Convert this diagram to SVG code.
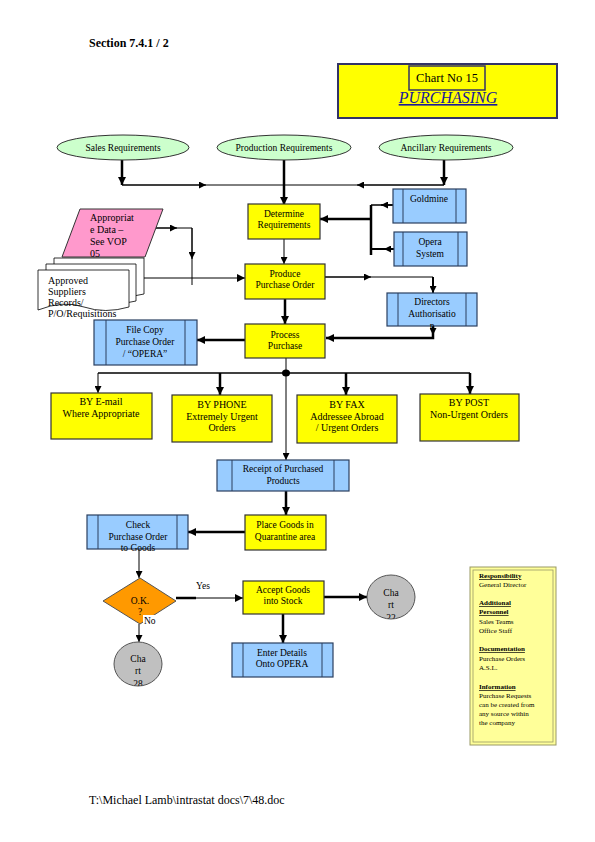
<svg xmlns="http://www.w3.org/2000/svg" width="595" height="842" viewBox="0 0 595 842">
<style>
text{font-family:"Liberation Serif","Times New Roman",serif;font-size:9.5px;fill:#000}
.c{text-anchor:middle}
.b10{font-size:10px}
.y{fill:#FFFF00;stroke:#333;stroke-width:1.2}
.bl{fill:#99CCFF;stroke:#2a3f5f;stroke-width:1.2}
.bar{stroke:#2a3f5f;stroke-width:1;fill:none}
.g{fill:#CCFFCC;stroke:#333;stroke-width:1}
.gr{fill:#C0C0C0;stroke:#555;stroke-width:1}
.t{stroke:#000;stroke-width:1;fill:none}
.k{stroke:#000;stroke-width:2.5;fill:none}
.info{font-size:7px}
.h{font-weight:bold;text-decoration:underline}
</style>
<defs>
<marker id="a" viewBox="0 0 10 10" refX="10" refY="5" markerWidth="7" markerHeight="7" markerUnits="userSpaceOnUse" orient="auto"><path d="M0,0 L10,5 L0,10 z" fill="#000"/></marker>
<marker id="A" viewBox="0 0 10 10" refX="10" refY="5" markerWidth="8" markerHeight="8" markerUnits="userSpaceOnUse" orient="auto"><path d="M0,0 L10,5 L0,10 z" fill="#000"/></marker>
<clipPath id="c22"><ellipse cx="391" cy="597" rx="24" ry="22"/></clipPath>
<clipPath id="c28"><ellipse cx="138" cy="664" rx="24" ry="22"/></clipPath>
</defs>
<rect width="595" height="842" fill="#fff"/>

<text x="89" y="47" style="font-size:12px;font-weight:bold">Section 7.4.1 / 2</text>

<g id="title">
<rect x="338" y="64" width="219" height="54" fill="#FFFF00" stroke="#333366" stroke-width="2"/>
<rect x="409" y="66" width="76" height="24" fill="#FFFF00" stroke="#333366" stroke-width="1.5"/>
<text x="447" y="82" class="c" style="font-size:12.5px">Chart No 15</text>
<text x="448" y="103" class="c" style="font-size:16px;font-style:italic;fill:#1a1a99;text-decoration:underline">PURCHASING</text>
</g>

<g id="connectors">
<path class="k" d="M122,160 V185" marker-end="url(#A)"/>
<path class="k" d="M284,160 V205" marker-end="url(#A)"/>
<path class="k" d="M444,160 V185" marker-end="url(#A)"/>
<path class="t" d="M122,185 H444"/>
<path class="t" d="M122,185 H206" marker-end="url(#a)"/>
<path class="t" d="M444,185 H357" marker-end="url(#a)"/>
<path stroke="#000" stroke-width="1.5" fill="none" d="M393,205 H371"/>
<path stroke="#000" stroke-width="1.5" fill="none" d="M393,205 H381" marker-end="url(#a)"/>
<path stroke="#000" stroke-width="2" fill="none" d="M394,249 H371"/>
<path stroke="#000" stroke-width="2" fill="none" d="M394,249 H384" marker-end="url(#a)"/>
<path class="k" d="M371,205 V255"/>
<path class="k" d="M371,219 H320" marker-end="url(#A)"/>
<path class="t" d="M284,239 V264" marker-end="url(#a)"/>
<path class="t" d="M156,228 H192 V285"/>
<path class="t" d="M156,228 H177" marker-end="url(#a)"/>
<path class="t" d="M192,228 V259" marker-end="url(#a)"/>
<path class="t" d="M143,278 H245" marker-end="url(#A)"/>
<path class="t" d="M325,277 H433"/>
<path class="t" d="M325,277 H371" marker-end="url(#a)"/>
<path stroke="#000" stroke-width="2" fill="none" d="M433,277 V293" marker-end="url(#a)"/>
<path class="k" d="M285,299 V324" marker-end="url(#A)"/>
<path class="k" d="M433,326 V338 H326" marker-end="url(#A)"/>
<path stroke="#000" stroke-width="2" fill="none" d="M433,326 V335" marker-end="url(#a)"/>
<path class="k" d="M245,340 H197" marker-end="url(#A)"/>
<path class="t" d="M286,358 V373"/>
<path stroke="#000" stroke-width="1.3" fill="none" d="M98,373 H470"/>
<path class="t" d="M98,373 V393" marker-end="url(#a)"/>
<path class="k" d="M220,373 V395" marker-end="url(#A)"/>
<path class="k" d="M346,373 V395" marker-end="url(#A)"/>
<path class="k" d="M470,373 V394" marker-end="url(#A)"/>
<path class="t" d="M286,373 V460" marker-end="url(#a)"/>
<ellipse cx="286" cy="373" rx="4" ry="3.5" fill="#000"/>
<path class="k" d="M286,491 V515" marker-end="url(#A)"/>
<path class="k" d="M245,532 H188" marker-end="url(#A)"/>
<path class="t" d="M139,549 V578" marker-end="url(#a)"/>
<path class="k" d="M176,598 H196"/>
<path class="t" d="M195,598 H243" marker-end="url(#A)"/>
<path class="k" d="M324,597 H367" marker-end="url(#A)"/>
<path class="k" d="M283,610 V643" marker-end="url(#A)"/>
<path class="t" d="M139,624 V642" marker-end="url(#a)"/>
</g>

<g id="sales">
<ellipse class="g" cx="123" cy="147.5" rx="66" ry="12.5"/>
<text x="123" y="151" class="c">Sales Requirements</text>
</g>
<g id="production">
<ellipse class="g" cx="284" cy="147.5" rx="67" ry="12.5"/>
<text x="284" y="151" class="c">Production Requirements</text>
</g>
<g id="ancillary">
<ellipse class="g" cx="446" cy="147.5" rx="67" ry="12.5"/>
<text x="446" y="151" class="c">Ancillary Requirements</text>
</g>

<g id="determine">
<rect class="y" x="248" y="204" width="72" height="35"/>
<text x="284" y="217" class="c">Determine</text>
<text x="284" y="228" class="c">Requirements</text>
</g>

<g id="goldmine">
<rect class="bl" x="393" y="189" width="73" height="34"/>
<path class="bar" d="M403,189 V223 M456,189 V223"/>
<text x="429" y="202" class="c">Goldmine</text>
</g>

<g id="opera">
<rect class="bl" x="394" y="232" width="73" height="34"/>
<path class="bar" d="M403,232 V266 M458,232 V266"/>
<text x="430" y="245" class="c">Opera</text>
<text x="430" y="257" class="c">System</text>
</g>

<g id="appropriate">
<polygon points="80,209 163,209 145,257 62,257" fill="#FF99CC" stroke="#333" stroke-width="1"/>
<text x="90" y="221" style="font-size:10px">Appropriat</text>
<text x="90" y="233" style="font-size:10px">e Data –</text>
<text x="90" y="245" style="font-size:10px">See VOP</text>
<text x="90" y="257" style="font-size:10px">05</text>
</g>

<g id="suppliers">
<path d="M54,258 H144 V294 Q120,300 100,294 T54,296 Z" fill="#fff" stroke="#000" stroke-width="0.8"/>
<path d="M46,264 H136 V301 Q112,307 92,301 T46,303 Z" fill="#fff" stroke="#000" stroke-width="0.8"/>
<path d="M38,270 H129 V307 Q105,314 84,307 T38,310 Z" fill="#fff" stroke="#000" stroke-width="0.8"/>
<text x="48" y="284" style="font-size:10px">Approved</text>
<text x="48" y="295" style="font-size:10px">Suppliers</text>
<text x="48" y="306" style="font-size:10px">Records/</text>
<text x="48" y="317" style="font-size:10px">P/O/Requisitions</text>
</g>

<g id="produce">
<rect class="y" x="245" y="264" width="80" height="35"/>
<text x="285" y="277" class="c">Produce</text>
<text x="285" y="288" class="c">Purchase Order</text>
</g>

<g id="directors">
<rect class="bl" x="387" y="293" width="90" height="33"/>
<path class="bar" d="M398,293 V326 M466,293 V326"/>
<text x="432" y="305" class="c">Directors</text>
<text x="432" y="317" class="c">Authorisatio</text>
<text x="432" y="329" class="c">n</text>
</g>

<g id="process">
<rect class="y" x="245" y="324" width="80" height="34"/>
<text x="285" y="338" class="c">Process</text>
<text x="285" y="349" class="c">Purchase</text>
</g>

<g id="filecopy">
<rect class="bl" x="94" y="320" width="103" height="45"/>
<path class="bar" d="M106,320 V365 M185,320 V365"/>
<text x="145" y="333" class="c">File Copy</text>
<text x="145" y="345" class="c">Purchase Order</text>
<text x="145" y="357" class="c">/ “OPERA”</text>
</g>

<g id="email">
<rect class="y" x="51" y="393" width="101" height="46"/>
<text x="101" y="405" class="c b10">BY E-mail</text>
<text x="101" y="417" class="c b10">Where Appropriate</text>
</g>
<g id="phone">
<rect class="y" x="172" y="395" width="100" height="47"/>
<text x="222" y="408" class="c b10">BY PHONE</text>
<text x="222" y="420" class="c b10">Extremely Urgent</text>
<text x="222" y="431" class="c b10">Orders</text>
</g>
<g id="fax">
<rect class="y" x="297" y="395" width="100" height="48"/>
<text x="347" y="408" class="c b10">BY FAX</text>
<text x="347" y="420" class="c b10">Addressee Abroad</text>
<text x="347" y="431" class="c b10">/ Urgent Orders</text>
</g>
<g id="post">
<rect class="y" x="420" y="394" width="99" height="47"/>
<text x="469" y="406" class="c b10">BY POST</text>
<text x="469" y="418" class="c b10">Non-Urgent Orders</text>
</g>

<g id="receipt">
<rect class="bl" x="217" y="460" width="132" height="31"/>
<path class="bar" d="M232,460 V491 M334,460 V491"/>
<text x="283" y="472" class="c">Receipt of Purchased</text>
<text x="283" y="484" class="c">Products</text>
</g>

<g id="place">
<rect class="y" x="245" y="515" width="81" height="35"/>
<text x="285" y="528" class="c">Place Goods in</text>
<text x="285" y="540" class="c">Quarantine area</text>
</g>

<g id="check">
<rect class="bl" x="87" y="515" width="101" height="34"/>
<path class="bar" d="M98,515 V549 M177,515 V549"/>
<text x="138" y="528" class="c">Check</text>
<text x="138" y="540" class="c">Purchase Order</text>
<text x="138" y="551" class="c">to Goods</text>
</g>

<g id="ok">
<polygon points="140,578 176,601 140,624 103,601" fill="#FF9900" stroke="#555" stroke-width="1"/>
<text x="140" y="604" class="c">O.K.</text>
<text x="140" y="615" class="c">?</text>
<rect x="143" y="615" width="14" height="10" fill="#fff"/>
<text x="144" y="624">No</text>
<text x="196" y="589">Yes</text>
</g>

<g id="accept">
<rect class="y" x="243" y="581" width="81" height="33"/>
<text x="283" y="593" class="c">Accept Goods</text>
<text x="283" y="604" class="c">into Stock</text>
</g>

<g id="chart22">
<ellipse class="gr" cx="391" cy="597" rx="24" ry="22"/>
<g clip-path="url(#c22)">
<text x="391" y="596" class="c">Cha</text>
<text x="391" y="608" class="c">rt</text>
<text x="391" y="621" class="c">22</text>
</g>
</g>

<g id="enter">
<rect class="bl" x="232" y="643" width="101" height="34"/>
<path class="bar" d="M243,643 V677 M322,643 V677"/>
<text x="282" y="656" class="c">Enter Details</text>
<text x="282" y="667" class="c">Onto OPERA</text>
</g>

<g id="chart28">
<ellipse class="gr" cx="138" cy="664" rx="24" ry="22"/>
<g clip-path="url(#c28)">
<text x="138" y="662" class="c">Cha</text>
<text x="138" y="674" class="c">rt</text>
<text x="138" y="687" class="c">28</text>
</g>
</g>

<g id="info">
<rect x="470" y="567" width="86" height="178" fill="#FFFF99" stroke="#999966" stroke-width="1"/>
<rect x="473" y="570" width="80" height="172" fill="none" stroke="#999966" stroke-width="0.8"/>
<text x="479" y="578" class="info h">Responsibility</text>
<text x="479" y="587" class="info">General Director</text>
<text x="479" y="605" class="info h">Additional</text>
<text x="479" y="614" class="info h">Personnel</text>
<text x="479" y="624" class="info">Sales Teams</text>
<text x="479" y="633" class="info">Office Staff</text>
<text x="479" y="651" class="info h">Documentation</text>
<text x="479" y="661" class="info">Purchase Orders</text>
<text x="479" y="670" class="info">A.S.L.</text>
<text x="479" y="689" class="info h">Information</text>
<text x="479" y="698" class="info">Purchase Requests</text>
<text x="479" y="707" class="info">can be created from</text>
<text x="479" y="716" class="info">any source within</text>
<text x="479" y="725" class="info">the company</text>
</g>

<text x="89" y="804" style="font-size:12px">T:\Michael Lamb\intrastat docs\7\48.doc</text>
</svg>
